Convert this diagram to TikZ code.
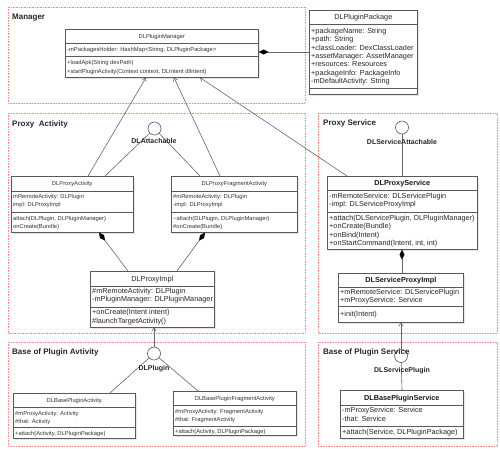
\documentclass[tikz,border=0pt]{standalone}
\usepackage{fontspec}
\setmainfont{Liberation Sans}
\usetikzlibrary{calc,arrows.meta,shadows}

\tikzset{
 cls/.style={draw=black!65, fill=white, line width=0.6pt, anchor=north west, inner sep=0pt,
   drop shadow={shadow xshift=1.3pt, shadow yshift=-1.3pt, opacity=0.2}},
 sepl/.style={draw=black!65, line width=0.5pt},
 region/.style={draw=red!45, densely dotted, line width=0.6pt},
 rlabel/.style={font=\bfseries\fontsize{8}{9}\selectfont, anchor=base west, inner sep=0pt, text=black!85},
 smallt/.style={font=\fontsize{5.8}{7}\selectfont, text=black!80, inner sep=0pt},
 bigt/.style={font=\fontsize{7.3}{8.3}\selectfont, text=black!85, inner sep=0pt},
 bigb/.style={font=\bfseries\fontsize{7.3}{8.3}\selectfont, text=black!90, inner sep=0pt},
 iface/.style={circle, draw=black!65, fill=white, line width=0.6pt, minimum size=13pt, inner sep=0pt},
 ilabel/.style={font=\bfseries\fontsize{7}{8}\selectfont, inner sep=0pt, text=black!85, anchor=base},
 conn/.style={draw=black!60, line width=0.6pt},
 dep/.style={conn, -{Straight Barb[length=3pt,width=4.5pt]}},
 comp/.style={conn, {Diamond[length=10pt,width=5pt,color=black]}-},
}

\newcommand\classbox[7]{%
 \node[cls, minimum width=#4pt, minimum height=#5pt] (#1) at (#2,#3) {};
 \draw[sepl] ($(#1.north west)+(0,#6)$) -- ($(#1.north east)+(0,#6)$);
 \draw[sepl] ($(#1.north west)+(0,#7)$) -- ($(#1.north east)+(0,#7)$);
}
\newcommand\clines[5]{%
 \foreach \t [count=\i from 0] in {#5}
   \node[#4, anchor=base west] at ($(#1.north west)+(2,#2+#3*\i)$) {\t};
}
\newcommand\ctitle[4]{%
 \node[#3, anchor=base] at ($(#1.north)+(0,#2)$) {#4};
}

\begin{document}
\begin{tikzpicture}[x=1pt,y=-1pt]
\useasboundingbox (0,0) rectangle (500,451);

% regions
\draw[region] (8,7) rectangle (305,103);
\draw[region] (8,113) rectangle (305,333);
\draw[region] (318,113) rectangle (497,333);
\draw[region] (8,342) rectangle (305,446);
\draw[region] (318,342) rectangle (497,446);

% classes
\classbox{mgr}{65}{29}{193}{48}{14}{27}
\ctitle{mgr}{9}{smallt}{DLPluginManager}
\clines{mgr}{22}{9}{smallt}{{-mPackagesHolder: HashMap<String, DLPluginPackage>}}
\clines{mgr}{35}{9}{smallt}{{+loadApk(String dexPath)},{+startPluginActivity(Context context, DLIntent dlIntent)}}

\classbox{pkg}{309}{10}{108}{84}{14}{78}
\ctitle{pkg}{9.6}{bigt}{DLPluginPackage}
\clines{pkg}{23.6}{8.33}{bigt}{{+packageName: String},{+path: String},{+classLoader: DexClassLoader},{+assetManager: AssetManager},{+resources: Resources},{+packageInfo: PackageInfo},{-mDefaultActivity: String}}

\classbox{pa}{11}{176}{122}{56}{15}{36}
\ctitle{pa}{9.6}{smallt}{DLProxyActivity}
\clines{pa}{22.1}{8}{smallt}{{mRemoteActivity: DLPlugin},{impl: DLProxyImpl}}
\clines{pa}{44.1}{8}{smallt}{{attach(DLPlugin, DLPluginManager)},{onCreate(Bundle)}}

\classbox{pfa}{171}{176}{126}{56}{15}{36}
\ctitle{pfa}{9.6}{smallt}{DLProxyFragmentActivity}
\clines{pfa}{22.1}{8}{smallt}{{\#mRemoteActivity: DLPlugin},{-impl: DLProxyImpl}}
\clines{pfa}{44.1}{8}{smallt}{{\textasciitilde attach(DLPlugin, DLPluginManager)},{\#onCreate(Bundle)}}

\classbox{pimpl}{90}{271}{124}{56}{15}{36}
\ctitle{pimpl}{10}{bigt}{DLProxyImpl}
\clines{pimpl}{22.6}{8.3}{bigt}{{\#mRemoteActivity: DLPlugin},{-mPluginManager: DLPluginManager}}
\clines{pimpl}{43.6}{8.5}{bigt}{{+onCreate(Intent intent)},{\#launchTargetActivity()}}

\classbox{bpa}{13}{393}{122}{45}{14}{34}
\ctitle{bpa}{9.1}{smallt}{DLBasePluginActivity}
\clines{bpa}{22}{8}{smallt}{{\#mProxyActivity: Activity},{\#that: Activity}}
\clines{bpa}{42}{8}{smallt}{{+attach(Activity, DLPluginPackage)}}

\classbox{bpfa}{173}{391}{123}{44}{14}{35}
\ctitle{bpfa}{9.1}{smallt}{DLBasePluginFragmentActivity}
\clines{bpfa}{22}{8}{smallt}{{\#mProxyActivity: FragmentActivity},{\#that: FragmentActivity}}
\clines{bpfa}{42}{8}{smallt}{{+attach(Activity, DLPluginPackage)}}

\classbox{ps}{327}{176}{150}{73}{14}{36}
\ctitle{ps}{9.6}{bigb}{DLProxyService}
\clines{ps}{22.6}{8.2}{bigt}{{-mRemoteService: DLServicePlugin},{-impl: DLServiceProxyImpl}}
\clines{ps}{44.6}{8.3}{bigt}{{+attach(DLServicePlugin, DLPluginManager)},{+onCreate(Bundle)},{+onBind(Intent)},{+onStartCommand(Intent, int, int)}}

\classbox{spi}{338}{273}{125}{49}{14}{33}
\ctitle{spi}{9.6}{bigb}{DLServiceProxyImpl}
\clines{spi}{21.6}{8}{bigt}{{+mRemoteService: DLServicePlugin},{+mProxyService: Service}}
\clines{spi}{43.6}{8}{bigt}{{+init(Intent)}}

\classbox{bps}{340}{390}{123}{48}{15}{36}
\ctitle{bps}{10}{bigb}{DLBasePluginService}
\clines{bps}{22.6}{8.5}{bigt}{{-mProxyService: Service},{-that: Service}}
\clines{bps}{44.6}{8}{bigt}{{+attach(Service, DLPluginPackage)}}

% interfaces
\node[iface] (c1) at (154.5,128.5) {};
\node[iface] (c2) at (402,127.5) {};
\node[iface] (c3) at (154,353.5) {};
\node[iface] (c4) at (401,356) {};

% connectors
\draw[comp] ($(mgr.north east)+(0,23)$) -- ($(pkg.north west)+(0,42)$);
\draw[dep] ($(pa.north west)+(77,0)$) -- ($(mgr.south west)+(81,0)$);
\draw[dep] ($(pfa.north west)+(49,0)$) -- ($(mgr.south west)+(109,0)$);
\draw[dep] ($(ps.north west)+(20,0)$) -- ($(mgr.south west)+(135,0)$);
\draw[conn] (c1) -- ($(pa.north west)+(94,0)$);
\draw[conn] (c1) -- ($(pfa.north west)+(29,0)$);
\draw[comp] ($(pa.south west)+(88,0)$) -- ($(pimpl.north west)+(38,0)$);
\draw[comp] ($(pfa.south west)+(34,0)$) -- ($(pimpl.north west)+(87,0)$);
\draw[conn] (c2) -- ($(ps.north west)+(75,0)$);
\draw[comp] ($(ps.south west)+(75,0)$) -- ($(spi.north west)+(64,0)$);
\draw[dep] (c3) -- ($(pimpl.south west)+(64,0)$);
\draw[conn] (c3) -- ($(bpa.north west)+(97,0)$);
\draw[conn] (c3) -- ($(bpfa.north west)+(25,0)$);
\draw[dep] (c4) -- ($(spi.south west)+(63,0)$);
\draw[conn] (c4) -- ($(bps.north west)+(62,0)$);

% interface labels
\node[ilabel] (l1) at (154,143.5) {DLAttachable};
\node[ilabel] (l2) at (402,144.5) {DLServiceAttachable};
\node[ilabel] (l3) at (154,370.5) {DLPlugin};
\node[ilabel] (l4) at (402,372.5) {DLServicePlugin};

% region labels
\node[rlabel] (r1) at (12,19) {Manager};
\node[rlabel] (r2) at (12,126) {Proxy\ \ Activity};
\node[rlabel] (r3) at (323,125) {Proxy Service};
\node[rlabel] (r4) at (12,354) {Base of Plugin Avtivity};
\node[rlabel] (r5) at (323,354) {Base of Plugin Service};
\end{tikzpicture}
\end{document}
